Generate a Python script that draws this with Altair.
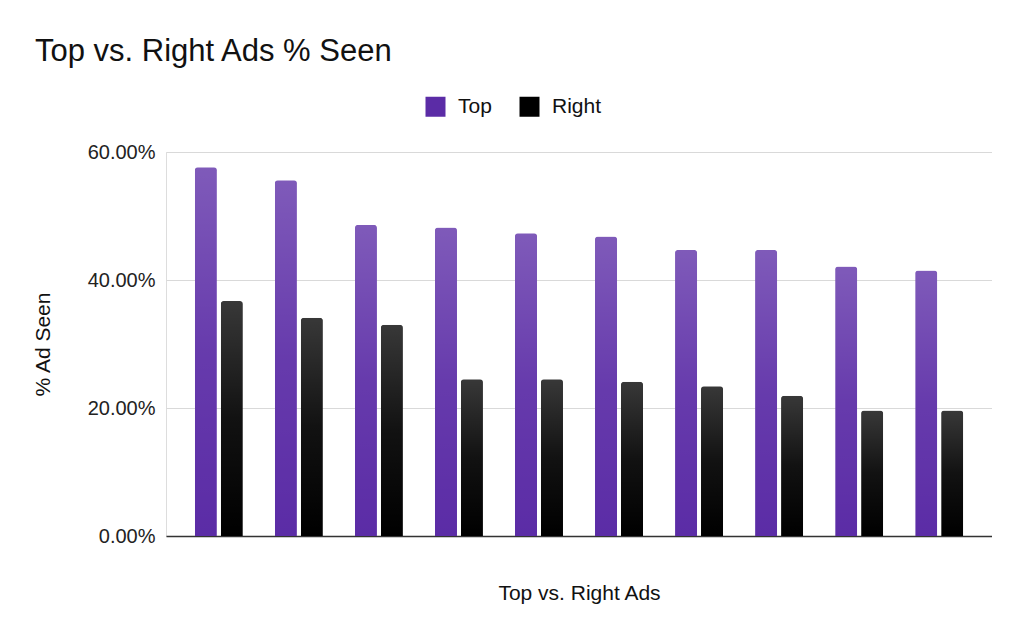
import altair as alt
import pandas as pd

groups = [str(i) for i in range(1, 11)]
series = ["Top", "Right"]
top_values = [57.6, 55.6, 48.6, 48.2, 47.3, 46.8, 44.7, 44.7, 42.1, 41.5]
right_values = [36.7, 34.1, 33.0, 24.5, 24.5, 24.1, 23.4, 21.9, 19.6, 19.6]
y_ticks = [0, 20, 40, 60]

rows = []
for g, t, r in zip(groups, top_values, right_values):
    rows.append({"group": g, "series": "Top", "value": t})
    rows.append({"group": g, "series": "Right", "value": r})
df = pd.DataFrame(rows)

FONT = "Liberation Sans"

x_enc = alt.X(
    "group:N",
    sort=groups,
    scale=alt.Scale(paddingInner=0.4, paddingOuter=0.36),
    axis=alt.Axis(
        title="Top vs. Right Ads",
        labels=False,
        ticks=False,
        grid=False,
        domainColor="#333333",
        domainWidth=1.5,
        titleFontSize=21,
        titleFontWeight="normal",
        titleColor="#111111",
        titleFont=FONT,
        titlePadding=46,
    ),
)
xoff_enc = alt.XOffset("series:N", sort=series, scale=alt.Scale(paddingInner=0.15))
y_enc = alt.Y(
    "value:Q",
    scale=alt.Scale(domain=[0, 60], nice=False),
    axis=alt.Axis(
        title="% Ad Seen",
        values=y_ticks,
        labelExpr="format(datum.value, '.2f') + '%'",
        labelFontSize=20,
        labelColor="#222222",
        labelFont=FONT,
        labelPadding=11,
        ticks=False,
        domain=False,
        gridColor="#d9d9d9",
        gridWidth=1,
        titleFontSize=21,
        titleFontWeight="normal",
        titleColor="#111111",
        titleFont=FONT,
        titlePadding=34,
    ),
)

bars = alt.Chart(df).mark_bar(cornerRadiusTopLeft=3, cornerRadiusTopRight=3).encode(
    x=x_enc,
    xOffset=xoff_enc,
    y=y_enc,
    color=alt.Color(
        "series:N",
        sort=series,
        scale=alt.Scale(domain=series, range=["#5b2ca6", "#000000"]),
        legend=alt.Legend(
            title=None,
            orient="none",
            direction="horizontal",
            legendX=259,
            legendY=-56,
            symbolType="square",
            symbolSize=400,
            symbolStrokeWidth=0,
            labelFontSize=21,
            labelFont=FONT,
            labelColor="#111111",
            labelOffset=12,
            columnPadding=27,
        ),
    ),
)

shine = alt.Chart(df).mark_bar(
    cornerRadiusTopLeft=3,
    cornerRadiusTopRight=3,
    fill=alt.Gradient(
        gradient="linear",
        stops=[
            alt.GradientStop(color="rgba(255,255,255,0.22)", offset=0),
            alt.GradientStop(color="rgba(255,255,255,0.07)", offset=0.5),
            alt.GradientStop(color="rgba(255,255,255,0)", offset=1),
        ],
        x1=0, x2=0, y1=0, y2=1,
    ),
).encode(x=x_enc, xOffset=xoff_enc, y=y_enc)

chart = (
    alt.layer(bars, shine)
    .properties(
        width=826,
        height=384,
        autosize=alt.AutoSizeParams(type="pad"),
        padding={"left": 24, "top": 28, "right": 0, "bottom": 12},
        title=alt.TitleParams(
            "Top vs. Right Ads % Seen",
            anchor="start",
            frame="group",
            dx=-131,
            fontSize=31,
            fontWeight="normal",
            font=FONT,
            color="#111111",
            offset=28,
        ),
    )
    .configure_view(strokeWidth=0)
    .configure(background="white")
)

chart.save("out.html", embed_options={"renderer": "svg", "actions": False})
